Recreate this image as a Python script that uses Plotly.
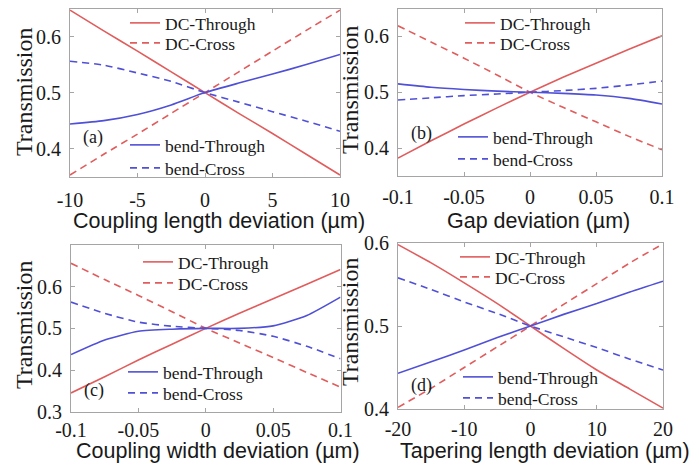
import plotly.graph_objects as go

W, H = 699, 470

# ---------------- data ----------------
x_a = [-10, -7.5, -5, -2.5, 0, 2.5, 5, 7.5, 10]
dc_through_a = [0.647, 0.610, 0.574, 0.537, 0.500, 0.463, 0.427, 0.390, 0.353]
dc_cross_a = [0.353, 0.390, 0.426, 0.463, 0.500, 0.537, 0.574, 0.611, 0.647]
bend_through_a = [0.444, 0.450, 0.461, 0.478, 0.500, 0.517, 0.533, 0.550, 0.568]
bend_cross_a = [0.556, 0.549, 0.535, 0.520, 0.500, 0.483, 0.466, 0.449, 0.431]

x_b = [-0.1, -0.075, -0.05, -0.025, 0, 0.025, 0.05, 0.075, 0.1]
dc_through_b = [0.382, 0.413, 0.443, 0.472, 0.500, 0.527, 0.552, 0.577, 0.601]
dc_cross_b = [0.619, 0.590, 0.561, 0.531, 0.500, 0.473, 0.447, 0.421, 0.397]
bend_through_b = [0.515, 0.509, 0.505, 0.502, 0.500, 0.498, 0.495, 0.489, 0.479]
bend_cross_b = [0.486, 0.490, 0.494, 0.497, 0.500, 0.503, 0.507, 0.513, 0.520]

x_c = [-0.1, -0.075, -0.05, -0.025, 0, 0.025, 0.05, 0.075, 0.1]
dc_through_c = [0.345, 0.384, 0.424, 0.462, 0.500, 0.536, 0.571, 0.606, 0.641]
dc_cross_c = [0.656, 0.617, 0.579, 0.540, 0.500, 0.465, 0.430, 0.394, 0.359]
bend_through_c = [0.437, 0.472, 0.493, 0.498, 0.500, 0.500, 0.506, 0.531, 0.575]
bend_cross_c = [0.563, 0.536, 0.515, 0.505, 0.500, 0.495, 0.481, 0.457, 0.427]

x_d = [-20, -15, -10, -5, 0, 5, 10, 15, 20]
dc_through_d = [0.598, 0.576, 0.552, 0.527, 0.500, 0.473, 0.447, 0.424, 0.401]
dc_cross_d = [0.402, 0.425, 0.450, 0.475, 0.500, 0.526, 0.551, 0.576, 0.599]
bend_through_d = [0.443, 0.457, 0.471, 0.486, 0.500, 0.514, 0.527, 0.541, 0.554]
bend_cross_d = [0.558, 0.544, 0.529, 0.515, 0.500, 0.487, 0.474, 0.460, 0.447]

series_names = ["DC-Through", "DC-Cross", "bend-Through", "bend-Cross"]
panel_labels = ["(a)", "(b)", "(c)", "(d)"]
x_titles = ["Coupling length deviation (µm)", "Gap deviation (µm)",
            "Coupling width deviation (µm)", "Tapering length deviation (µm)"]
y_title = "Transmission"

xtick_a = [-10, -5, 0, 5, 10]
xtick_a_text = ["-10", "-5", "0", "5", "10"]
xtick_b = [-0.1, -0.05, 0, 0.05, 0.1]
xtick_b_text = ["-0.1", "-0.05", "0", "0.05", "0.1"]
xtick_d = [-20, -10, 0, 10, 20]
xtick_d_text = ["-20", "-10", "0", "10", "20"]
ytick_ab = [0.4, 0.5, 0.6]
ytick_ab_text = ["0.4", "0.5", "0.6"]
ytick_c = [0.3, 0.4, 0.5, 0.6]
ytick_c_text = ["0.3", "0.4", "0.5", "0.6"]

# ---------------- styling ----------------
RED = "rgb(225,92,92)"
BLUE = "rgb(80,80,215)"
FRAME = "rgb(165,165,165)"
TXT = "rgb(25,25,25)"
SERIF = "Liberation Serif"
SANS = "Liberation Sans"
DASH = "7px,5px"


def px(xp):
    return xp / W


def py(yp):
    return 1 - yp / H


panels = [
    dict(x=x_a, ys=[dc_through_a, dc_cross_a, bend_through_a, bend_cross_a],
         xdom=(70, 340), ydom=(8.5, 176.7), xr=[-10, 10], yr=[0.35, 0.65],
         xt=(xtick_a, xtick_a_text), yt=(ytick_ab, ytick_ab_text), xso=5,
         legpos=[(165, 23), (165, 43), (165, 145), (165, 168)], lab=(93, 137),
         xtitle=(219, 221), ytitle=(24, 92)),
    dict(x=x_b, ys=[dc_through_b, dc_cross_b, bend_through_b, bend_cross_b],
         xdom=(398, 662), ydom=(8.5, 176), xr=[-0.1, 0.1], yr=[0.35, 0.65],
         xt=(xtick_b, xtick_b_text), yt=(ytick_ab, ytick_ab_text), xso=3,
         legpos=[(500, 23), (500, 43), (493, 137), (493, 159)], lab=(421, 133),
         xtitle=(538, 221), ytitle=(350, 90)),
    dict(x=x_c, ys=[dc_through_c, dc_cross_c, bend_through_c, bend_cross_c],
         xdom=(71, 340.5), ydom=(245, 411.7), xr=[-0.1, 0.1], yr=[0.3, 0.7],
         xt=(xtick_b, xtick_b_text), yt=(ytick_c, ytick_c_text), xso=0,
         legpos=[(178, 262), (178, 283), (163, 372), (163, 393)], lab=(94, 390),
         xtitle=(218, 451), ytitle=(24, 325)),
    dict(x=x_d, ys=[dc_through_d, dc_cross_d, bend_through_d, bend_cross_d],
         xdom=(398, 663), ydom=(243, 409), xr=[-20, 20], yr=[0.4, 0.6],
         xt=(xtick_d, xtick_d_text), yt=(ytick_ab, ytick_ab_text), xso=2,
         legpos=[(495, 257), (495, 277), (498, 377), (498, 398)], lab=(421, 385),
         xtitle=(545, 451), ytitle=(350, 322)),
]

styles = [(RED, "solid"), (RED, DASH), (BLUE, "solid"), (BLUE, DASH)]

fig = go.Figure()
layout = dict(width=W, height=H,
              margin=dict(l=0, r=0, t=0, b=0, autoexpand=False),
              font=dict(family=SERIF, size=20, color=TXT),
              paper_bgcolor="white", plot_bgcolor="white", showlegend=True)
annotations = []

for i, p in enumerate(panels):
    k = "" if i == 0 else str(i + 1)
    xa, ya = "x" + k, "y" + k
    for j, (name, y) in enumerate(zip(series_names, p["ys"])):
        col, dash = styles[j]
        n = 4 * i + j + 1
        lk = "legend" if n == 1 else f"legend{n}"
        fig.add_trace(go.Scatter(
            x=p["x"], y=y, mode="lines", name=name,
            line=dict(color=col, width=1.6, dash=dash, shape="spline", smoothing=0.6),
            xaxis=xa, yaxis=ya, legend=lk, hoverinfo="skip"))
        lx, ly = p["legpos"][j]
        layout[lk] = dict(x=px(lx - 40), y=py(ly), xanchor="left", yanchor="middle",
                          bgcolor="rgba(0,0,0,0)", borderwidth=0, itemwidth=30,
                          font=dict(family=SERIF, size=17.5, color=TXT))
    common = dict(showline=True, linecolor=FRAME, linewidth=1, mirror="ticks",
                  ticks="inside", ticklen=4, tickcolor=FRAME, showgrid=False,
                  zeroline=False,
                  tickfont=dict(family=SERIF, size=20, color=TXT))
    layout["xaxis" + k] = dict(common, domain=[px(p["xdom"][0]), px(p["xdom"][1])],
                               range=p["xr"], anchor=ya, tickmode="array",
                               tickvals=p["xt"][0], ticktext=p["xt"][1],
                               ticklabelstandoff=p["xso"])
    layout["yaxis" + k] = dict(common, domain=[py(p["ydom"][1]), py(p["ydom"][0])],
                               range=p["yr"], anchor=xa, tickmode="array",
                               tickvals=p["yt"][0], ticktext=p["yt"][1],
                               ticklabelstandoff=4)
    annotations.append(dict(text=panel_labels[i], x=px(p["lab"][0]), y=py(p["lab"][1]),
                            xref="paper", yref="paper", showarrow=False,
                            xanchor="center", yanchor="middle",
                            font=dict(family=SERIF, size=18, color=TXT)))
    annotations.append(dict(text=x_titles[i], x=px(p["xtitle"][0]), y=py(p["xtitle"][1]),
                            xref="paper", yref="paper", showarrow=False,
                            xanchor="center", yanchor="middle",
                            font=dict(family=SANS, size=21.5, color=TXT)))
    annotations.append(dict(text=y_title, x=px(p["ytitle"][0]), y=py(p["ytitle"][1]),
                            xref="paper", yref="paper", showarrow=False, textangle=-90,
                            xanchor="center", yanchor="middle",
                            font=dict(family=SERIF, size=24, color=TXT)))

layout["annotations"] = annotations
fig.update_layout(**layout)
fig.write_html("out.html")
